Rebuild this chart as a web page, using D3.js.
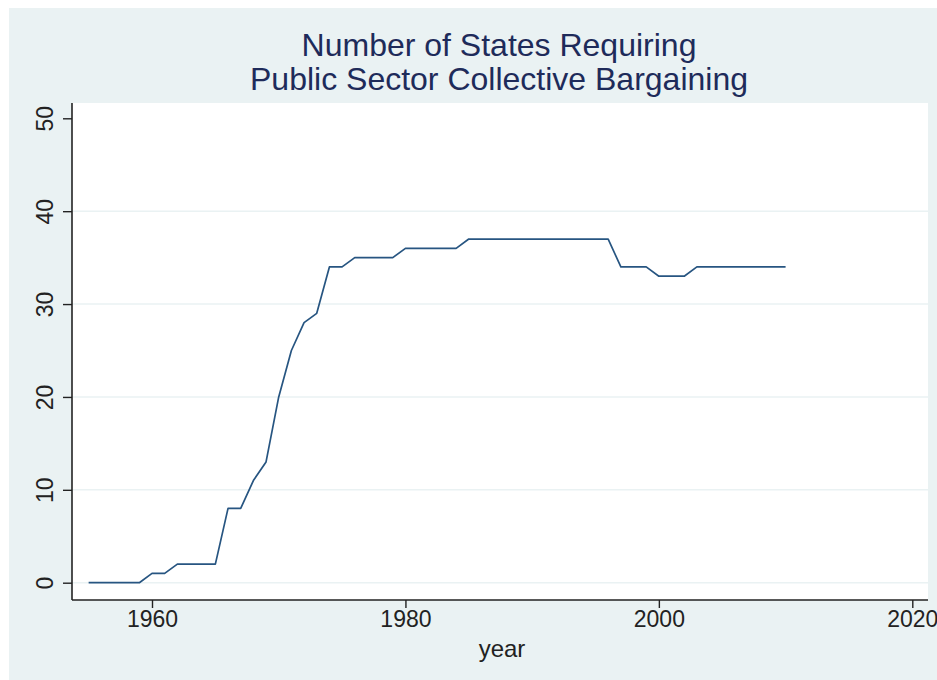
<!DOCTYPE html>
<meta charset="utf-8">
<head>
    <script src="https://d3js.org/d3.v7.min.js"></script>
    <style>
        body { margin: 0; background: #ffffff; }
        text { font-family: "Liberation Sans", Arial, Helvetica, sans-serif; }
    </style>
</head>
<body>
    <div id="graph"></div>

<script>
    // data
    var years  = [1955, 1956, 1957, 1958, 1959, 1960, 1961, 1962, 1963, 1964,
                  1965, 1966, 1967, 1968, 1969, 1970, 1971, 1972, 1973, 1974,
                  1975, 1976, 1977, 1978, 1979, 1980, 1981, 1982, 1983, 1984,
                  1985, 1986, 1987, 1988, 1989, 1990, 1991, 1992, 1993, 1994,
                  1995, 1996, 1997, 1998, 1999, 2000, 2001, 2002, 2003, 2004,
                  2005, 2006, 2007, 2008, 2009, 2010];
    var states = [0, 0, 0, 0, 0, 1, 1, 2, 2, 2,
                  2, 8, 8, 11, 13, 20, 25, 28, 29, 34,
                  34, 35, 35, 35, 35, 36, 36, 36, 36, 36,
                  37, 37, 37, 37, 37, 37, 37, 37, 37, 37,
                  37, 37, 34, 34, 34, 33, 33, 33, 34, 34,
                  34, 34, 34, 34, 34, 34];
    var xTicks = [1960, 1980, 2000, 2020];
    var yTicks = [0, 10, 20, 30, 40, 50];
    var gridTicks = [0, 10, 20, 30, 40];

    var W = 937, H = 680;
    var plot = {left: 72, right: 928, top: 103, bottom: 600};

    var svg = d3.select("#graph")
      .append("svg")
        .attr("width", W)
        .attr("height", H);

    // graph region background
    svg.append("rect")
        .attr("x", 9).attr("y", 8)
        .attr("width", W - 9).attr("height", H - 8)
        .attr("fill", "#eaf2f3");

    // plot region
    svg.append("rect")
        .attr("x", plot.left).attr("y", plot.top)
        .attr("width", plot.right - plot.left)
        .attr("height", plot.bottom - plot.top)
        .attr("fill", "#ffffff");

    var x = d3.scaleLinear().domain([1960, 2020]).range([152, 912.3]);
    var y = d3.scaleLinear().domain([0, 50]).range([582.7, 118.3]);

    // grid lines
    svg.append("g")
        .selectAll("line")
        .data(gridTicks)
        .enter()
        .append("line")
        .attr("x1", plot.left).attr("x2", plot.right)
        .attr("y1", function (d) { return y(d); })
        .attr("y2", function (d) { return y(d); })
        .attr("stroke", "#eaf2f3")
        .attr("stroke-width", 1.5);

    // y axis
    var yAxis = svg.append("g")
        .attr("transform", "translate(" + plot.left + ",0)")
        .call(d3.axisLeft(y).tickValues(yTicks).tickSize(9).tickSizeOuter(0));
    yAxis.select(".domain").remove();
    yAxis.selectAll(".tick line").attr("stroke", "#222").attr("stroke-width", 1.4);
    yAxis.selectAll(".tick text")
        .attr("transform", "rotate(-90)")
        .attr("x", 0)
        .attr("y", -19)
        .attr("dy", 0)
        .attr("text-anchor", "middle")
        .attr("fill", "#222")
        .style("font-size", "23px")
        .style("font-family", "'Liberation Sans', Arial, sans-serif");

    // x axis
    var xAxis = svg.append("g")
        .attr("transform", "translate(0," + plot.bottom + ")")
        .call(d3.axisBottom(x).tickValues(xTicks).tickFormat(d3.format("d")).tickSize(8).tickPadding(3).tickSizeOuter(0));
    xAxis.select(".domain").remove();
    xAxis.selectAll(".tick line").attr("stroke", "#222").attr("stroke-width", 1.4);
    xAxis.selectAll(".tick text")
        .attr("fill", "#222")
        .style("font-size", "23px")
        .style("font-family", "'Liberation Sans', Arial, sans-serif");

    // axis lines
    svg.append("line")
        .attr("x1", plot.left).attr("x2", plot.left)
        .attr("y1", plot.top).attr("y2", plot.bottom)
        .attr("stroke", "#222").attr("stroke-width", 1.6);
    svg.append("line")
        .attr("x1", plot.left).attr("x2", plot.right)
        .attr("y1", plot.bottom).attr("y2", plot.bottom)
        .attr("stroke", "#222").attr("stroke-width", 1.6);

    // the series
    var line = d3.line()
        .x(function (d, i) { return x(years[i]); })
        .y(function (d) { return y(d); });
    svg.append("path")
        .datum(states)
        .attr("d", line)
        .attr("fill", "none")
        .attr("stroke", "#275581")
        .attr("stroke-width", 1.7)
        .attr("stroke-linejoin", "round");

    // x axis title
    svg.append("text")
        .attr("x", 502)
        .attr("y", 657)
        .attr("text-anchor", "middle")
        .attr("fill", "#222")
        .style("font-size", "24px")
        .text("year");

    // title, two separate lines
    svg.append("text")
        .attr("x", 499).attr("y", 56)
        .attr("text-anchor", "middle")
        .attr("fill", "#1e2b5a")
        .style("font-size", "32px")
        .text("Number of States Requiring");
    svg.append("text")
        .attr("x", 499).attr("y", 90)
        .attr("text-anchor", "middle")
        .attr("fill", "#1e2b5a")
        .style("font-size", "32px")
        .text("Public Sector Collective Bargaining");
</script>
</body>
